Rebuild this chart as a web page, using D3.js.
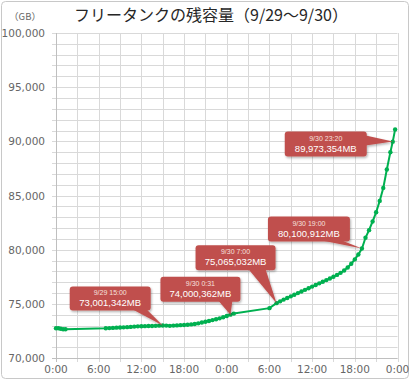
<!DOCTYPE html>
<html><head><meta charset="utf-8">
<script src="https://cdn.jsdelivr.net/npm/d3@7"></script>
<style>
html,body{margin:0;padding:0;background:#fff;}
svg{display:block;}
</style></head>
<body>
<svg id="chart" width="412" height="380"></svg>
<script>
// ---- data ----
const chartTitle = "フリータンクの残容量（9/29～9/30）";
const unitLabel = "（GB）";
const timestamps = [
 "09/29 00:00","09/29 00:20","09/29 00:40","09/29 01:00","09/29 01:20",
 "09/29 07:00","09/29 07:30","09/29 08:00","09/29 08:30","09/29 09:00","09/29 09:30",
 "09/29 10:00","09/29 10:30","09/29 11:00","09/29 11:30","09/29 12:00","09/29 12:30",
 "09/29 13:00","09/29 13:30","09/29 14:00","09/29 14:30","09/29 15:00","09/29 15:30",
 "09/29 16:00","09/29 16:30","09/29 17:00","09/29 17:30","09/29 18:00","09/29 18:30",
 "09/29 19:00","09/29 19:30","09/29 20:00","09/29 20:30","09/29 21:00","09/29 21:30",
 "09/29 22:00","09/29 22:30","09/29 23:00","09/29 23:30",
 "09/30 00:00","09/30 00:31","09/30 01:00","09/30 06:00","09/30 07:00","09/30 07:30",
 "09/30 08:00","09/30 08:30","09/30 09:00","09/30 09:30","09/30 10:00","09/30 10:30",
 "09/30 11:00","09/30 11:30","09/30 12:00","09/30 12:30","09/30 13:00","09/30 13:30",
 "09/30 14:00","09/30 14:30","09/30 15:00","09/30 15:30","09/30 16:00","09/30 16:30",
 "09/30 17:00","09/30 17:30","09/30 18:00","09/30 18:30","09/30 19:00","09/30 19:30",
 "09/30 20:00","09/30 20:30","09/30 21:00","09/30 21:30","09/30 22:00","09/30 22:30",
 "09/30 23:00","09/30 23:20","09/30 23:40"
];
const capacityGB = [
 72740,72740,72700,72650,72660,
 72740,72760,72780,72800,72820,72830,
 72850,72870,72900,72920,72930,72940,
 72950,72960,72970,72985,73001,72990,
 72970,72990,73010,73030,73050,73070,
 73100,73140,73200,73280,73350,73420,
 73500,73580,73660,73760,
 73880,74000,74100,74600,75065,75230,
 75390,75540,75690,75840,75990,76140,
 76290,76440,76590,76740,76890,77040,
 77190,77340,77500,77670,77860,78080,
 78350,78700,79100,79560,80101,81100,
 81800,82600,83450,84500,85700,87400,
 89000,89973,91100
];
const xTickLabels = ["0:00","6:00","12:00","18:00","0:00","6:00","12:00","18:00","0:00"];
const yTickValues = [70000,75000,80000,85000,90000,95000,100000];
const calloutTimes = ["09/29 15:00","09/30 00:31","09/30 07:00","09/30 19:00","09/30 23:20"];
const calloutDates = ["9/29 15:00","9/30 0:31","9/30 7:00","9/30 19:00","9/30 23:20"];
const calloutMB = [73001342,74000362,75065032,80100912,89973354];

// ---- layout (pixel offsets of callout boxes relative to their tip) ----
const calloutLayout = [
 {dx:-93, dy:-39, w:81, h:24, side:"bottom", b0:-30, b1:-16},
 {dx:-70, dy:-38, w:80, h:25, side:"bottom", b0:-12, b1:2},
 {dx:-81, dy:-58, w:80, h:25, side:"bottom", b0:-28, b1:-11},
 {dx:-94, dy:-32, w:82, h:25, side:"bottom", b0:-40, b1:-20},
 {dx:-108, dy:-10, w:82, h:25, side:"right", b0:-6, b1:4}
];

(function(){
const parse = d3.timeParse("%m/%d %H:%M");
const series = timestamps.map((t,i)=>({t:parse(t), v:capacityGB[i]}));

const svg = d3.select("#chart");
const W = 412, H = 380;
const pl = 56, pr = 397.5, pt = 33, pb = 358;

svg.append("rect").attr("x",1.5).attr("y",1.5).attr("width",W-5).attr("height",H-3)
  .attr("rx",4).attr("fill","#fff").attr("stroke","#c8c8c8").attr("stroke-width",1);

const x = d3.scaleTime().domain([parse("09/29 00:00"), parse("10/01 00:00")]).range([pl,pr]);
const y = d3.scaleLinear().domain([70000,100000]).range([pb,pt]);

const gridColor = "#d9d9d9";
svg.append("g").selectAll("line").data(d3.range(70000,100001,1000)).join("line")
  .attr("x1",pl-4).attr("x2",pr).attr("y1",d=>Math.round(y(d))+0.5).attr("y2",d=>Math.round(y(d))+0.5)
  .attr("stroke",gridColor).attr("stroke-width",1);
svg.append("g").selectAll("line").data(x.ticks(d3.timeHour.every(3))).join("line")
  .attr("x1",d=>Math.round(x(d))+0.5).attr("x2",d=>Math.round(x(d))+0.5)
  .attr("y1",pt).attr("y2",pb+4)
  .attr("stroke",gridColor).attr("stroke-width",1);
svg.append("line").attr("x1",Math.round(pl)+0.5).attr("x2",Math.round(pl)+0.5).attr("y1",pt).attr("y2",pb+4)
  .attr("stroke","#bfbfbf");
svg.append("line").attr("x1",pl-4).attr("x2",pr).attr("y1",Math.round(pb)+0.5).attr("y2",Math.round(pb)+0.5)
  .attr("stroke","#bfbfbf");

const labelFont = "'DejaVu Sans', sans-serif";
const labelColor = "#666666";
svg.append("g").selectAll("text").data(yTickValues).join("text")
  .attr("x",45).attr("y",d=>y(d)+4)
  .attr("text-anchor","end").attr("font-family",labelFont).attr("font-size",10.5)
  .attr("fill",labelColor).text(d3.format(","));
const xTicks = x.ticks(d3.timeHour.every(6));
svg.append("g").selectAll("text").data(xTicks).join("text")
  .attr("x",d=>x(d)).attr("y",373)
  .attr("text-anchor","middle").attr("font-family",labelFont).attr("font-size",10.5)
  .attr("fill",labelColor).text((d,i)=>xTickLabels[i]);

svg.append("text").attr("x",211).attr("y",21).attr("text-anchor","middle")
  .attr("font-family","'Noto Sans CJK JP', sans-serif").attr("font-size",16)
  .attr("fill","#262626").text(chartTitle);
svg.append("text").attr("x",25).attr("y",20).attr("text-anchor","middle")
  .attr("font-family","'Noto Sans CJK JP', sans-serif").attr("font-size",9.5)
  .attr("fill",labelColor).text(unitLabel);

const green = "#00b050";
svg.append("path").datum(series)
  .attr("d", d3.line().x(d=>x(d.t)).y(d=>y(d.v)))
  .attr("fill","none").attr("stroke",green).attr("stroke-width",2);
svg.append("g").selectAll("circle").data(series).join("circle")
  .attr("cx",d=>x(d.t)).attr("cy",d=>y(d.v)).attr("r",2.2).attr("fill",green);

const defs = svg.append("defs");
const f = defs.append("filter").attr("id","sh").attr("x","-20%").attr("y","-20%").attr("width","140%").attr("height","160%");
f.append("feDropShadow").attr("dx",1).attr("dy",1.5).attr("stdDeviation",1).attr("flood-color","#000").attr("flood-opacity",0.3);

const fmt = d3.format(",");
calloutTimes.forEach((t,i)=>{
  const tx = x(parse(t)), ty = y(calloutMB[i]/1000);
  const L = calloutLayout[i];
  const bx = tx + L.dx, by = ty + L.dy;
  const g = svg.append("g").attr("filter","url(#sh)");
  let tri;
  if (L.side === "bottom") {
    tri = [[tx+L.b0, by+L.h-1],[tx+L.b1, by+L.h-1],[tx,ty]];
  } else {
    tri = [[bx+L.w-1, ty+L.b0],[bx+L.w-1, ty+L.b1],[tx,ty]];
  }
  g.append("path").attr("d", d3.line()(tri)+"Z").attr("fill","#c0504d");
  g.append("rect").attr("x",bx).attr("y",by).attr("width",L.w).attr("height",L.h)
    .attr("rx",3).attr("fill","#c0504d");
  svg.append("text").attr("x",bx+L.w/2).attr("y",by+9).attr("text-anchor","middle")
    .attr("font-family","'Liberation Sans', sans-serif").attr("font-size",7)
    .attr("fill","#f6e0df").text(calloutDates[i]);
  svg.append("text").attr("x",bx+L.w/2).attr("y",by+20).attr("text-anchor","middle")
    .attr("font-family","'Liberation Sans', sans-serif").attr("font-size",9.5)
    .attr("fill","#fff").text(fmt(calloutMB[i])+"MB");
});
})();
</script>
</body></html>
